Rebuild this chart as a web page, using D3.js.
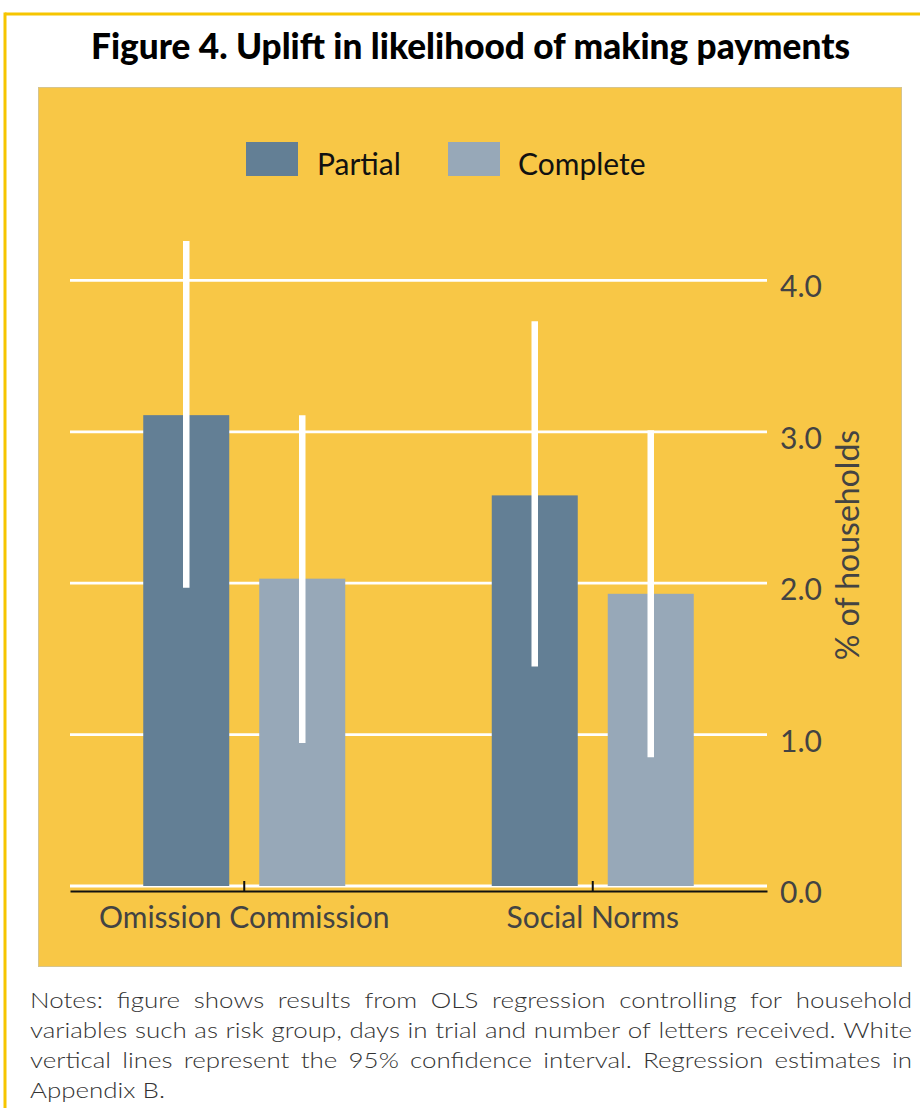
<!DOCTYPE html>
<html>
<head>
<meta charset="utf-8">
<script src="https://cdn.jsdelivr.net/npm/d3@7"></script>
<style>
  html, body { margin: 0; padding: 0; background: #ffffff; }
  svg { display: block; }
  text { font-family: Lato, "Open Sans", sans-serif; }
</style>
</head>
<body>
<svg id="chart" width="920" height="1108"></svg>
<script>
// ---- data ----
const categories = ["Omission Commission", "Social Norms"];
const seriesNames = ["Partial", "Complete"];
const partialValues = [3.11, 2.58];
const completeValues = [2.03, 1.93];
const partialLow = [1.97, 1.45];
const partialHigh = [4.26, 3.73];
const completeLow = [0.945, 0.85];
const completeHigh = [3.11, 3.01];
const yTicks = [0, 1, 2, 3, 4];
const titleText = "Figure 4. Uplift in likelihood of making payments";
const yAxisLabel = "% of households";
const noteLines = [
  "Notes: figure shows results from OLS regression controlling for household",
  "variables such as risk group, days in trial and number of letters received.  White",
  "vertical lines represent the 95% confidence interval. Regression estimates in",
  "Appendix B."
];

const colors = { Partial: "#637f95", Complete: "#97a8b8" };

const rows = categories.map((c, i) => ({
  category: c,
  values: [
    { key: "Partial", value: partialValues[i], lo: partialLow[i], hi: partialHigh[i] },
    { key: "Complete", value: completeValues[i], lo: completeLow[i], hi: completeHigh[i] }
  ]
}));

const svg = d3.select("#chart");

// outer gold frame (top and left)
svg.append("line").attr("x1", 5).attr("x2", 920).attr("y1", 14).attr("y2", 14)
  .attr("stroke", "#f6c500").attr("stroke-width", 3);
svg.append("line").attr("x1", 5).attr("x2", 5).attr("y1", 12.5).attr("y2", 1108)
  .attr("stroke", "#f6c500").attr("stroke-width", 3);

// title
svg.append("text")
  .attr("x", 91).attr("y", 59)
  .attr("textLength", 759).attr("lengthAdjust", "spacingAndGlyphs")
  .style("font-size", "36px").style("font-weight", 900).attr("fill", "#000")
  .text(titleText);

// panel
svg.append("rect").attr("x", 38.5).attr("y", 87.5).attr("width", 863).attr("height", 879)
  .attr("fill", "#f8c746").attr("stroke", "#d6c58e").attr("stroke-width", 1);

// scales
const x0 = d3.scaleBand().domain(categories).range([70, 767]).paddingInner(0).paddingOuter(0);
const x1 = d3.scaleBand().domain(seriesNames).range([0, x0.bandwidth()])
  .paddingInner(0.2586).paddingOuter(0.6315);
const y = d3.scaleLinear().domain([0, 4]).range([886, 280.4]);

// gridlines
const grid = svg.append("g");
grid.selectAll("line").data(yTicks).join("line")
  .attr("x1", 70).attr("x2", 767)
  .attr("y1", d => y(d)).attr("y2", d => y(d))
  .attr("stroke", "#ffffff").attr("stroke-width", 2.8);

// y axis (right)
const yAxis = d3.axisRight(y).tickValues(yTicks).tickFormat(d3.format(".1f")).tickSize(0).tickPadding(13);
const yg = svg.append("g").attr("transform", "translate(767,0)").call(yAxis);
yg.select(".domain").remove();
yg.selectAll("text").style("font-size", "30px").style("font-family", "Lato, sans-serif")
  .attr("fill", "#434343").attr("dy", "16.5px");

// y axis label
svg.append("text")
  .attr("transform", `translate(859,${(428 + 662) / 2}) rotate(-90)`)
  .attr("text-anchor", "middle")
  .style("font-size", "32px").attr("fill", "#434343")
  .text(yAxisLabel);

// bars
const groups = svg.append("g").selectAll("g").data(rows).join("g")
  .attr("transform", d => `translate(${x0(d.category)},0)`);
groups.selectAll("rect").data(d => d.values).join("rect")
  .attr("x", d => x1(d.key)).attr("width", x1.bandwidth())
  .attr("y", d => y(d.value)).attr("height", d => y(0) - y(d.value))
  .attr("fill", d => colors[d.key]);

// error bars
groups.selectAll("line.err").data(d => d.values).join("line")
  .attr("class", "err")
  .attr("x1", d => x1(d.key) + x1.bandwidth() / 2)
  .attr("x2", d => x1(d.key) + x1.bandwidth() / 2)
  .attr("y1", d => y(d.lo)).attr("y2", d => y(d.hi))
  .attr("stroke", "#ffffff").attr("stroke-width", 6.5);

// x axis
const xAxis = d3.axisBottom(x0).tickSize(-10).tickSizeOuter(0).tickPadding(16);
const xg = svg.append("g").attr("transform", "translate(0,891)").call(xAxis);
xg.select(".domain").attr("stroke", "#111").attr("stroke-width", 2);
xg.selectAll(".tick line").attr("stroke", "#111").attr("stroke-width", 2);
xg.selectAll("text").style("font-size", "30px").style("font-family", "Lato, sans-serif")
  .attr("fill", "#434343");

// legend
const legend = svg.append("g");
const legendItems = [
  { key: "Partial", sx: 246, tx: 317 },
  { key: "Complete", sx: 448, tx: 518 }
];
legendItems.forEach(it => {
  legend.append("rect").attr("x", it.sx).attr("y", 142).attr("width", 52).attr("height", 34)
    .attr("fill", colors[it.key]);
  legend.append("text").attr("x", it.tx).attr("y", 175)
    .style("font-size", "30px").attr("fill", "#111").text(it.key);
});

// notes (justified, horizontally widened so line 2 is set tight like the reference)
const notesLeft = 30, notesRight = 912;
const notesG = svg.append("g");
const probe = notesG.append("text").style("font-size", "21.5px").style("font-weight", 300)
  .style("white-space", "pre").text(noteLines[1]);
const w2 = probe.node().getComputedTextLength();
probe.remove();
const sx = Math.max(1, (notesRight - notesLeft - 2) / w2);
notesG.attr("transform", `translate(${notesLeft},0) scale(${sx},1)`);
const innerW = (notesRight - notesLeft) / sx;
noteLines.forEach((line, i) => {
  const baseY = 1008 + i * 30;
  const justify = i < noteLines.length - 1;
  const words = line.split(/\s+/);
  const t = notesG.append("text").attr("y", baseY)
    .style("font-size", "21.5px").style("font-weight", 300).attr("fill", "#333");
  if (!justify) {
    t.attr("x", 0).text(line);
    return;
  }
  const spans = words.map(w => t.append("tspan").text(w));
  const widths = spans.map(s => s.node().getComputedTextLength());
  const total = d3.sum(widths);
  const gap = (innerW - total) / (words.length - 1);
  let cx = 0;
  spans.forEach((s, k) => { s.attr("x", cx); cx += widths[k] + gap; });
});
</script>
</body>
</html>
